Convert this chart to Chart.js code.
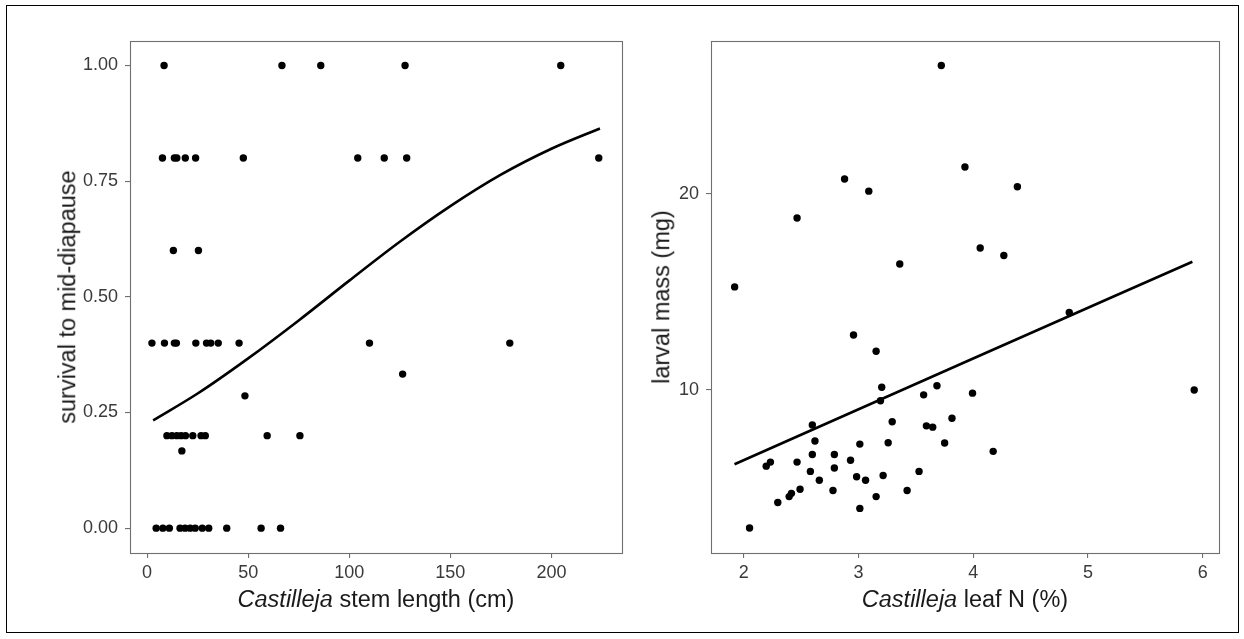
<!DOCTYPE html>
<html>
<head>
<meta charset="utf-8">
<script src="https://cdn.jsdelivr.net/npm/chart.js@4/dist/chart.umd.min.js"></script>
<style>
  html, body { margin: 0; padding: 0; background: #fff; }
  body { width: 1244px; height: 639px; position: relative; overflow: hidden; font-family: "Liberation Sans", Arial, sans-serif; }
  canvas { position: absolute; left: 0; top: 0; }
  #frame { position: absolute; left: 6px; top: 5px; width: 1233px; height: 628px; border: 1px solid #000; box-sizing: border-box; }
  .title { position: absolute; font-size: 23.5px; color: #1a1a1a; white-space: nowrap; transform: translate(-50%, -50%); line-height: 1; }
  .ytitle { transform: translate(-50%, -50%) rotate(-90deg); }
</style>
</head>
<body>
<div id="frame"></div>
<canvas id="left" width="1244" height="639"></canvas>
<canvas id="right" width="1244" height="639"></canvas>
<div class="title" style="left:376px; top:600px;"><i>Castilleja</i> stem length (cm)</div>
<div class="title ytitle" style="left:68px; top:297px;">survival to mid-diapause</div>
<div class="title" style="left:965px; top:600px;"><i>Castilleja</i> leaf N (%)</div>
<div class="title ytitle" style="left:662px; top:297px;">larval mass (mg)</div>
<script>
// ---- Left panel data: survival vs stem length ----
const stemLength = [
  8.4, 66.7, 85.9, 127.6, 204.6,
  7.6, 13.5, 14.7, 18.9, 24.0, 47.6, 104.2, 117.3, 128.4, 223.4,
  13.0, 25.4,
  2.4, 8.6, 13.5, 14.5, 24.1, 29.4, 31.5, 35.2, 45.5, 110.0, 179.4,
  126.4,
  48.4,
  9.8, 12.3, 14.7, 16.8, 19.0, 22.6, 26.7, 28.8, 59.4, 75.6,
  17.2,
  4.5, 7.8, 11.0, 16.3, 18.8, 21.3, 23.8, 27.3, 30.5, 39.4, 56.4, 66.0
];
const survival = [
  1, 1, 1, 1, 1,
  0.8, 0.8, 0.8, 0.8, 0.8, 0.8, 0.8, 0.8, 0.8, 0.8,
  0.6, 0.6,
  0.4, 0.4, 0.4, 0.4, 0.4, 0.4, 0.4, 0.4, 0.4, 0.4, 0.4,
  0.333,
  0.286,
  0.2, 0.2, 0.2, 0.2, 0.2, 0.2, 0.2, 0.2, 0.2, 0.2,
  0.167,
  0, 0, 0, 0, 0, 0, 0, 0, 0, 0, 0, 0
];
const survivalFitX = [3, 25, 50, 75, 100, 125, 150, 175, 200, 224];
const survivalFitY = [0.233, 0.291, 0.367, 0.449, 0.535, 0.619, 0.696, 0.764, 0.820, 0.864];
const survivalTicksX = [0, 50, 100, 150, 200];
const survivalTicksY = [0, 0.25, 0.5, 0.75, 1];

// ---- Right panel data: larval mass vs leaf N ----
const leafN = [
  3.722, 3.928, 2.879, 3.090, 2.465, 3.360, 1.921, 4.385, 4.061, 4.267,
  2.957, 3.154, 3.203, 3.192, 3.684, 3.568, 3.994, 2.598, 3.294, 3.815,
  3.592, 3.647, 2.621, 3.259, 3.751, 3.012, 2.598, 2.790, 2.196, 2.233,
  2.465, 2.931, 2.581, 2.790, 3.528, 2.984, 3.062, 3.215, 2.659, 2.491,
  2.416, 2.396, 2.778, 3.424, 3.154, 2.297, 3.012, 2.051,
  4.174, 4.837, 5.926
];
const larvalMass = [
  31.5, 22.0, 21.09, 20.2, 18.37, 15.61, 14.4, 20.52, 16.52, 16.09,
  12.15, 11.47, 10.1, 9.63, 10.15, 9.83, 9.89, 8.84, 8.94, 9.05,
  8.81, 8.77, 8.35, 8.30, 8.29, 8.26, 7.96, 7.96, 7.64, 7.75,
  7.75, 7.80, 7.50, 7.59, 7.50, 7.36, 7.27, 7.39, 7.27, 7.04,
  6.94, 6.86, 7.01, 7.01, 6.86, 6.72, 6.58, 6.14,
  8.05, 13.15, 10.0
];
const massFitX = [1.92, 3.97, 5.91];
const massFitY = [7.69, 11.12, 15.74];
const massTicksX = [2, 3, 4, 5, 6];
const massTicksY = [10, 20];

const FONT = "'Liberation Sans', Arial, sans-serif";
const tickColor = '#3a3a3a';
const borderColor = '#6f6f6f';

const panelBorder = {
  id: 'panelBorder',
  afterDraw(chart) {
    const a = chart.chartArea, c = chart.ctx;
    c.save();
    c.strokeStyle = borderColor;
    c.lineWidth = 1.1;
    c.strokeRect(Math.round(a.left) + 0.5, Math.round(a.top) + 0.5,
                 Math.round(a.right - a.left), Math.round(a.bottom - a.top));
    c.restore();
  }
};

function toPts(xs, ys) { return xs.map((x, i) => ({ x: x, y: ys[i] })); }

function axis(opts) {
  return Object.assign({
    grid: { display: true, drawOnChartArea: false, drawTicks: true, tickLength: 5, color: borderColor, lineWidth: 1.1 },
    border: { display: false }
  }, opts);
}

function makeChart(id, cfg) {
  return new Chart(document.getElementById(id), {
    type: 'scatter',
    data: {
      datasets: [
        { data: toPts(cfg.px, cfg.py), pointRadius: 3.7, pointBackgroundColor: '#000', pointBorderWidth: 0, showLine: false, order: 2 },
        { data: toPts(cfg.lx, cfg.ly), showLine: true, borderColor: '#000', borderWidth: 2.6, pointRadius: 0, cubicInterpolationMode: 'monotone', fill: false, order: 1 }
      ]
    },
    options: {
      responsive: false, animation: false, devicePixelRatio: 1,
      layout: { padding: cfg.padding },
      plugins: { legend: { display: false }, tooltip: { enabled: false } },
      scales: {
        x: axis({
          type: 'linear', min: cfg.xmin, max: cfg.xmax,
          afterBuildTicks: s => { s.ticks = cfg.xticks.map(v => ({ value: v })); },
          afterFit: s => { s.height = cfg.xAxisH; },
          ticks: { color: tickColor, font: { family: FONT, size: 18 }, padding: 4, autoSkip: false, maxRotation: 0, callback: v => String(v) }
        }),
        y: axis({
          type: cfg.ytype, min: cfg.ymin, max: cfg.ymax,
          afterBuildTicks: s => { s.ticks = cfg.yticks.map(v => ({ value: v })); },
          afterFit: s => { s.width = cfg.yAxisW; },
          ticks: { color: tickColor, font: { family: FONT, size: 18 }, padding: 7, autoSkip: false, callback: cfg.yfmt }
        })
      }
    },
    plugins: [panelBorder]
  });
}

makeChart('left', {
  px: stemLength, py: survival, lx: survivalFitX, ly: survivalFitY,
  xmin: -8.45, xmax: 234.9, xticks: survivalTicksX,
  ytype: 'linear', ymin: -0.0537, ymax: 1.053, yticks: survivalTicksY,
  yfmt: v => Number(v).toFixed(2),
  yAxisW: 130, xAxisH: 86,
  padding: { left: 0, top: 41, right: 622, bottom: 0 }
});

makeChart('right', {
  px: leafN, py: larvalMass, lx: massFitX, ly: massFitY,
  xmin: 1.715, xmax: 6.142, xticks: massTicksX,
  ytype: 'logarithmic', ymin: 5.62, ymax: 34.35, yticks: massTicksY,
  yfmt: v => String(v),
  yAxisW: 711, xAxisH: 86,
  padding: { left: 0, top: 41, right: 25, bottom: 0 }
});
</script>
</body>
</html>
